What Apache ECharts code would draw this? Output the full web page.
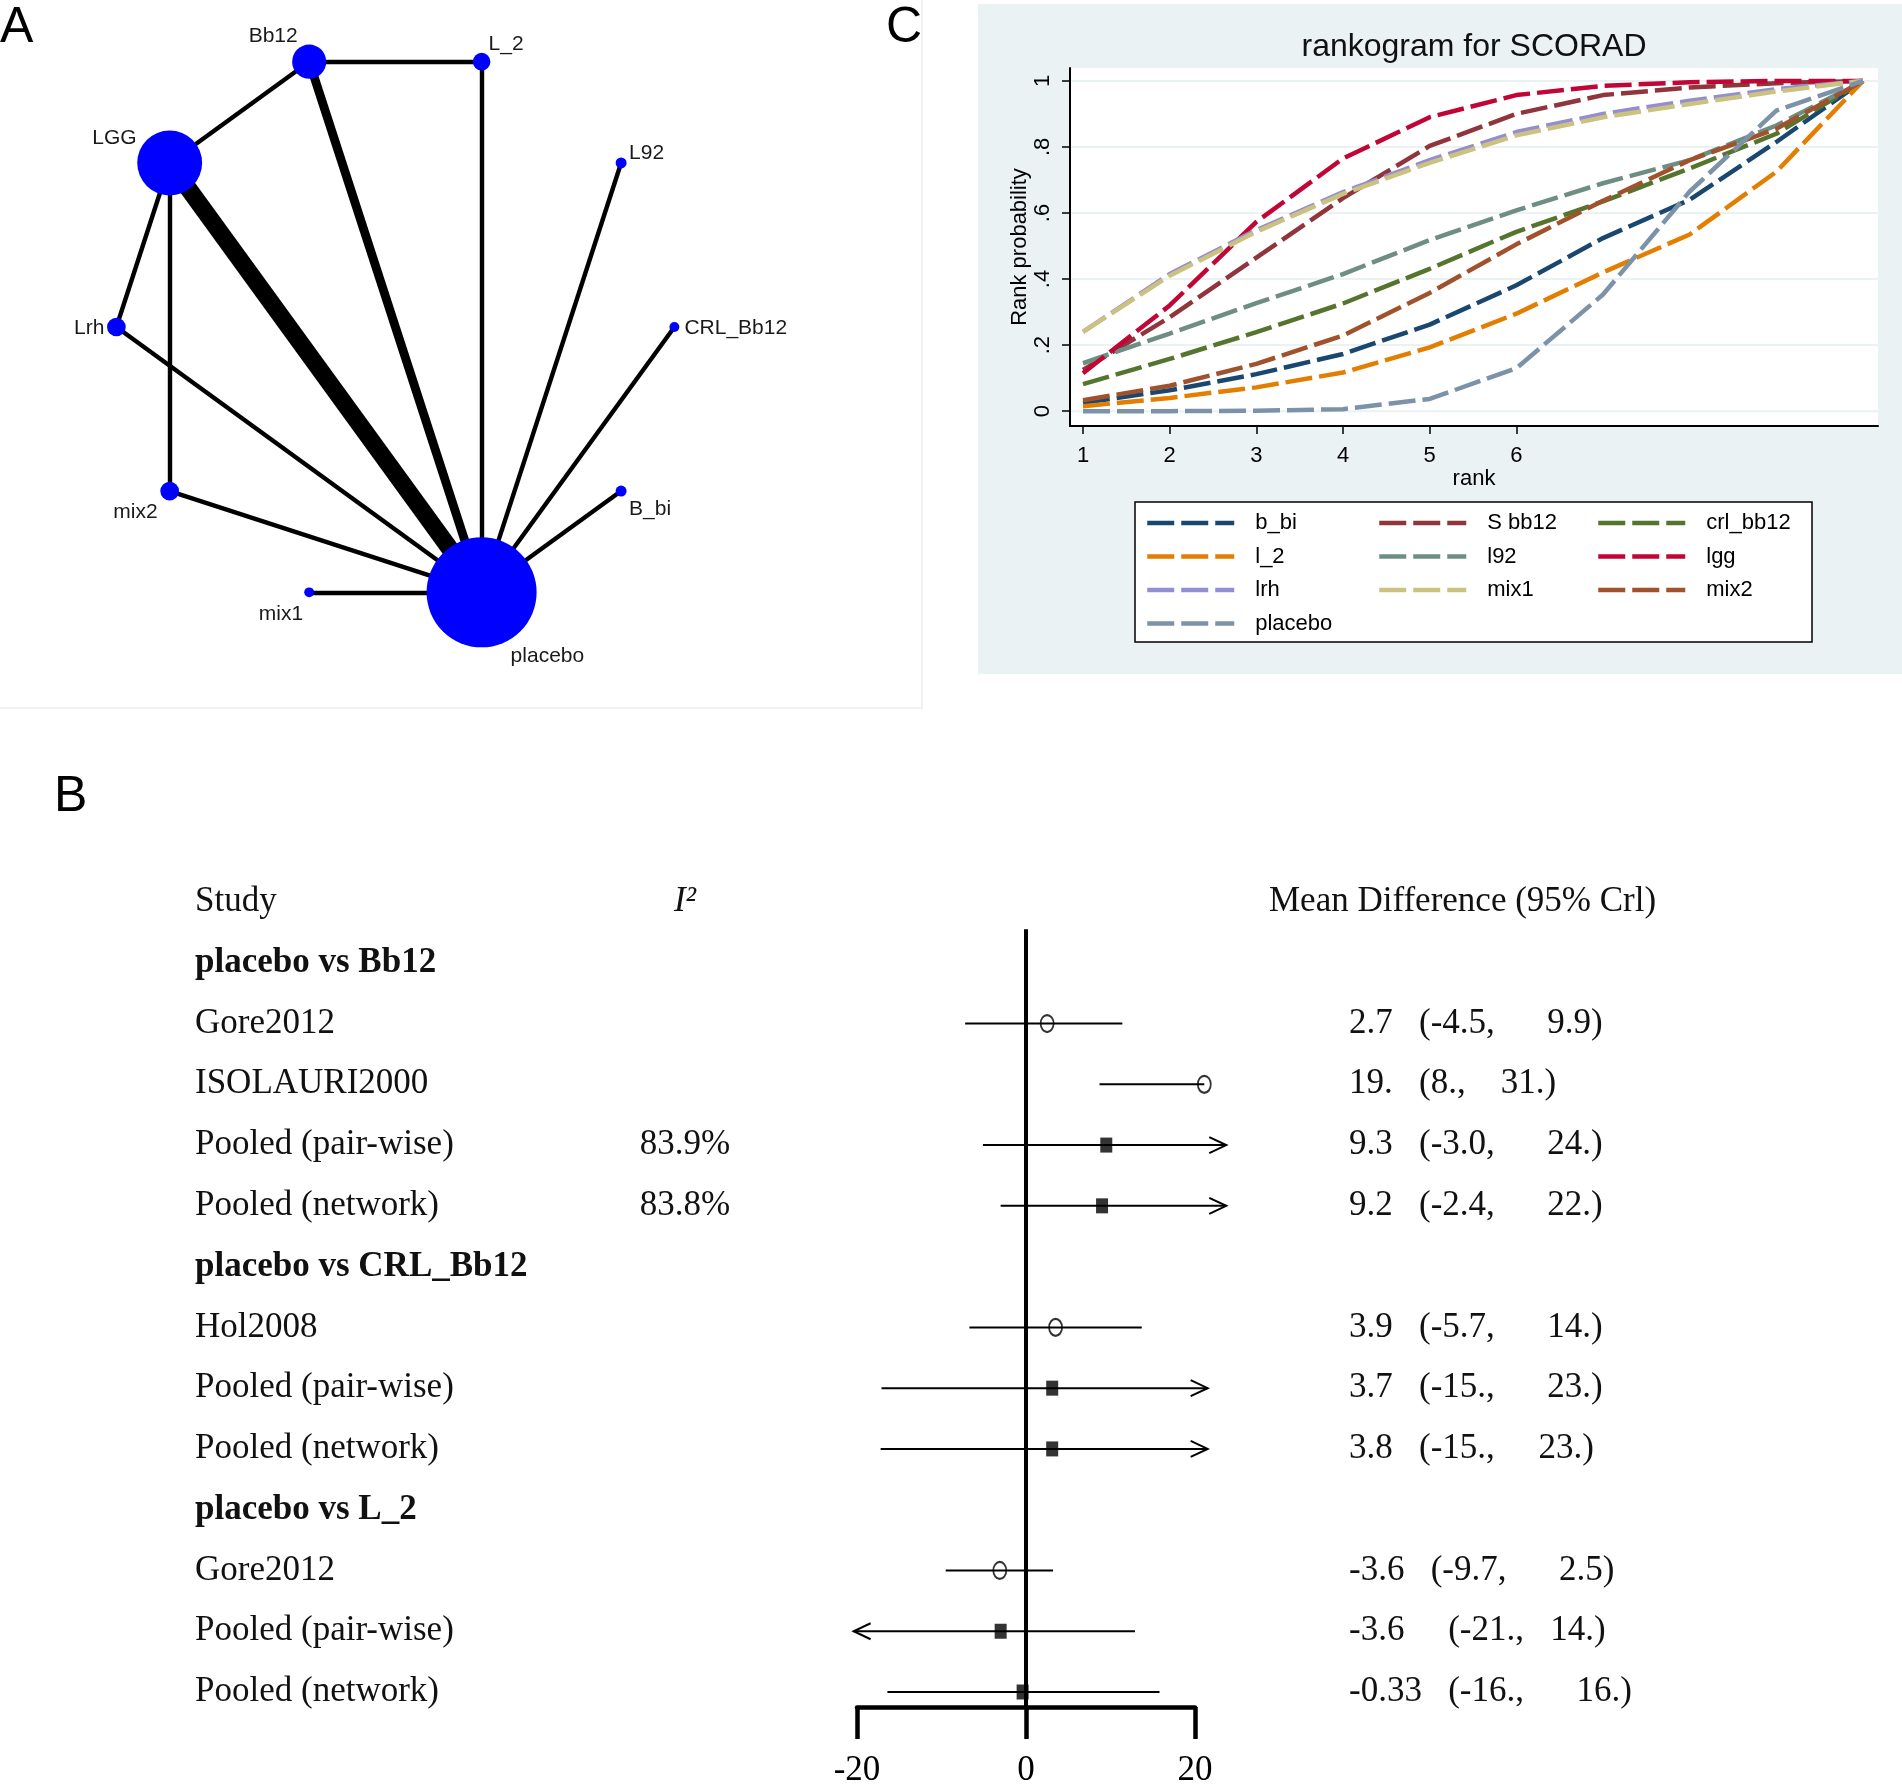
<!DOCTYPE html>
<html><head><meta charset="utf-8">
<script src="https://cdn.jsdelivr.net/npm/echarts@6/dist/echarts.min.js"></script>
<style>html,body{margin:0;padding:0;background:#fff}#c{width:1902px;height:1788px}</style>
</head><body><div id="c"></div>
<script>
// ---------- Panel A: network ----------
const nodeNames = ['CRL_Bb12', 'L92', 'L_2', 'Bb12', 'LGG', 'Lrh', 'mix2', 'mix1', 'placebo', 'B_bi'];
const nodeX = [1.0, 0.809, 0.309, -0.309, -0.809, -1.0, -0.809, -0.309, 0.309, 0.809];
const nodeY = [0.0, 0.588, 0.951, 0.951, 0.588, 0.0, -0.588, -0.951, -0.951, -0.588];
const nodeWeight = [9, 10, 16, 31, 59, 17, 17, 9, 100, 10];
const edgeFrom = ['Bb12', 'Bb12', 'Bb12', 'L_2', 'LGG', 'LGG', 'LGG', 'Lrh', 'mix2', 'mix1', 'L92', 'CRL_Bb12', 'B_bi'];
const edgeTo = ['L_2', 'LGG', 'placebo', 'placebo', 'Lrh', 'mix2', 'placebo', 'placebo', 'placebo', 'placebo', 'placebo', 'placebo', 'placebo'];
const edgeStudies = [1, 1, 2, 1, 1, 1, 4, 1, 1, 1, 1, 1, 1];

// ---------- Panel C: rankogram ----------
const ranks = [1, 2, 3, 4, 5, 6, 7, 8, 9, 10];
const rankNames = ['b_bi', 'S bb12', 'crl_bb12', 'l_2', 'l92', 'lgg', 'lrh', 'mix1', 'mix2', 'placebo'];
const rank_b_bi     = [0.025, 0.063, 0.112, 0.173, 0.262, 0.381, 0.524, 0.640, 0.815, 1];
const rank_bb12     = [0.125, 0.284, 0.465, 0.645, 0.803, 0.900, 0.957, 0.980, 0.993, 1];
const rank_crl_bb12 = [0.082, 0.158, 0.239, 0.326, 0.431, 0.543, 0.635, 0.735, 0.840, 1];
const rank_l_2      = [0.015, 0.040, 0.072, 0.117, 0.193, 0.295, 0.420, 0.535, 0.725, 1];
const rank_l92      = [0.145, 0.235, 0.327, 0.415, 0.518, 0.608, 0.690, 0.760, 0.865, 1];
const rank_lgg      = [0.115, 0.320, 0.573, 0.765, 0.890, 0.957, 0.985, 0.996, 1.000, 1];
const rank_lrh      = [0.240, 0.415, 0.548, 0.663, 0.760, 0.845, 0.900, 0.940, 0.975, 1];
const rank_mix1     = [0.240, 0.410, 0.543, 0.658, 0.752, 0.835, 0.890, 0.930, 0.968, 1];
const rank_mix2     = [0.033, 0.077, 0.143, 0.229, 0.358, 0.505, 0.637, 0.760, 0.855, 1];
const rank_placebo  = [0.000, 0.000, 0.001, 0.006, 0.037, 0.130, 0.353, 0.665, 0.910, 1];
const rankValues = [rank_b_bi, rank_bb12, rank_crl_bb12, rank_l_2, rank_l92, rank_lgg, rank_lrh, rank_mix1, rank_mix2, rank_placebo];
const rankXTicks = [1, 2, 3, 4, 5, 6];
const rankYTicks = [0, 0.2, 0.4, 0.6, 0.8, 1];
const rankYTickLabels = ['0', '.2', '.4', '.6', '.8', '1'];

// ---------- Panel B: forest ----------
const forestRows = ['Study', 'placebo vs Bb12', 'Gore2012', 'ISOLAURI2000', 'Pooled (pair-wise)', 'Pooled (network)',
  'placebo vs CRL_Bb12', 'Hol2008', 'Pooled (pair-wise)', 'Pooled (network)',
  'placebo vs L_2', 'Gore2012', 'Pooled (pair-wise)', 'Pooled (network)'];
const forestBoldRows = [1, 6, 10];
const i2Rows = [0, 4, 5];
const i2Text = ['I²', '83.9%', '83.8%'];
const mdHeader = 'Mean Difference (95% Crl)';
const mdRows = [2, 3, 4, 5, 7, 8, 9, 11, 12, 13];
const mdText = [
  '2.7   (-4.5,      9.9)',
  '19.   (8.,    31.)',
  '9.3   (-3.0,      24.)',
  '9.2   (-2.4,      22.)',
  '3.9   (-5.7,      14.)',
  '3.7   (-15.,      23.)',
  '3.8   (-15.,     23.)',
  '-3.6   (-9.7,      2.5)',
  '-3.6     (-21.,   14.)',
  '-0.33   (-16.,      16.)'
];
const markEst = [2.5, 21.1, 9.5, 9.0, 3.5, 3.1, 3.1, -3.1, -3.0, -0.4];
const markLo  = [-7.2, 8.7, -5.1, -3.0, -6.7, -17.1, -17.2, -9.5, -20.4, -16.4];
const markHi  = [11.4, 21.1, 23.7, 23.7, 13.7, 21.5, 21.5, 3.2, 12.9, 15.8];
const markKind = ['study', 'study', 'pooled', 'pooled', 'study', 'pooled', 'pooled', 'study', 'pooled', 'pooled'];
const markArrow = ['', '', 'right', 'right', '', 'right', 'right', '', 'left', ''];
const forestTicks = [-20, 0, 20];

// ---------- styles ----------
const SANS = "'Liberation Sans', Arial, sans-serif";
const SERIF = "'Liberation Serif', 'Times New Roman', serif";
const rankColors = ['#1a476f', '#90353b', '#55752f', '#e37e00', '#6e8e84', '#c10534', '#938dd2', '#cac27e', '#a0522d', '#7b92a8'];
const nodeLabelStyle = {
  'Bb12':     { align: 'center', offset: [-36, -25] },
  'L_2':      { align: 'left',   offset: [7, -17] },
  'LGG':      { align: 'right',  offset: [-33, -25] },
  'L92':      { align: 'left',   offset: [8, -10] },
  'Lrh':      { align: 'right',  offset: [-12, 1] },
  'CRL_Bb12': { align: 'left',   offset: [10, 1] },
  'mix2':     { align: 'right',  offset: [-12, 21] },
  'B_bi':     { align: 'left',   offset: [8, 18] },
  'mix1':     { align: 'right',  offset: [-6, 22] },
  'placebo':  { align: 'left',   offset: [29, 64] }
};
const FOREST_AXIS_OFFSET = 15;

const chart = echarts.init(document.getElementById('c'), null, { renderer: 'canvas' });

const graphNodes = nodeNames.map((n, i) => ({
  name: n,
  value: [nodeX[i], nodeY[i]],
  symbolSize: nodeWeight[i] * 1.1,
  label: {
    show: true, position: 'inside', align: nodeLabelStyle[n].align, verticalAlign: 'middle',
    offset: nodeLabelStyle[n].offset, fontSize: 21, fontFamily: SANS, color: '#1a1a1a'
  }
}));
const graphLinks = edgeFrom.map((f, i) => ({
  source: f, target: edgeTo[i], lineStyle: { width: edgeStudies[i] * 4.4 }
}));

const rankSeries = rankNames.map((n, k) => ({
  name: n, type: 'line', xAxisIndex: 1, yAxisIndex: 1, z: 3,
  data: ranks.map((r, i) => [r, rankValues[k][i]]),
  symbol: 'none', showSymbol: false, silent: true,
  lineStyle: { color: rankColors[k], width: 4.5, type: [27, 7], cap: 'butt' },
  itemStyle: { color: rankColors[k] }
}));

const legendCols = [
  ['b_bi', 'l_2', 'lrh', 'placebo'],
  ['S bb12', 'l92', 'mix1'],
  ['crl_bb12', 'lgg', 'mix2']
];
const legendX = [1145, 1377, 1596];

const option = {
  backgroundColor: '#fff',
  animation: false,
  title: {
    text: 'rankogram for SCORAD', left: 1474, top: 31, textAlign: 'center', padding: 0,
    textStyle: { fontSize: 32, fontWeight: 'normal', color: '#111', fontFamily: SANS }
  },
  legend: legendCols.map((cols, c) => ({
    data: cols, orient: 'vertical', left: legendX[c], top: 512, padding: 0,
    itemWidth: 87, itemHeight: 22, itemGap: 11.5, selectedMode: false, z: 6,
    itemStyle: { opacity: 0 },
    lineStyle: { width: 4.5, type: [27, 7], cap: 'butt' },
    textStyle: { fontSize: 22, fontFamily: SANS, color: '#000', lineHeight: 22, padding: [0, 0, 0, 16] }
  })),
  graphic: [
    { type: 'rect', z: -5, shape: { x: 978, y: 4, width: 924, height: 670 }, style: { fill: '#eaf2f3' } },
    { type: 'rect', z: 5, shape: { x: 1135, y: 502, width: 677, height: 140 }, style: { fill: '#fff', stroke: '#000', lineWidth: 1.5 } },
    { type: 'polyline', z: -5, shape: { points: [[922, 0], [922, 708], [0, 708]] }, style: { stroke: '#f1f1f1', lineWidth: 2, fill: null } },
    { type: 'text', z: 10, x: 0, y: 28, style: { text: 'A', fontSize: 50, fontFamily: SANS, fill: '#000', verticalAlign: 'middle' } },
    { type: 'text', z: 10, x: 886, y: 28, style: { text: 'C', fontSize: 50, fontFamily: SANS, fill: '#000', verticalAlign: 'middle' } },
    { type: 'text', z: 10, x: 54, y: 797, style: { text: 'B', fontSize: 50, fontFamily: SANS, fill: '#000', verticalAlign: 'middle' } }
  ],
  grid: [
    { left: 60.6, top: 20.1, width: 669.6, height: 613.8, show: false },
    { left: 1070, top: 68, width: 808, height: 358, show: true, backgroundColor: '#fff', borderWidth: 0 },
    { left: 857, top: 902, width: 338, height: 805, show: false }
  ],
  xAxis: [
    { gridIndex: 0, type: 'value', min: -1.2, max: 1.2, show: false },
    { gridIndex: 1, type: 'value', min: 0.85, max: 10.173, z: 6,
      name: 'rank', nameLocation: 'middle', nameGap: 41,
      nameTextStyle: { fontSize: 22, fontFamily: SANS, color: '#000' },
      axisLine: { show: true, onZero: false, lineStyle: { color: '#000', width: 2 } },
      axisTick: { show: true, length: 8, customValues: rankXTicks, lineStyle: { color: '#000', width: 1.5 } },
      axisLabel: { customValues: rankXTicks, margin: 19, fontSize: 22, fontFamily: SANS, color: '#000' },
      splitLine: { show: false } },
    { gridIndex: 2, type: 'value', min: -20, max: 20, interval: 20, offset: FOREST_AXIS_OFFSET, z: 6,
      axisLine: { show: true, onZero: false, lineStyle: { color: '#000', width: 4.5 } },
      axisTick: { show: true, length: 32, lineStyle: { color: '#000', width: 4.5 } },
      axisLabel: { margin: 46, fontSize: 35, fontFamily: SERIF, color: '#000', showMinLabel: true, showMaxLabel: true },
      splitLine: { show: false } }
  ],
  yAxis: [
    { gridIndex: 0, type: 'value', min: -1.1, max: 1.1, show: false },
    { gridIndex: 1, type: 'value', min: -0.045, max: 1.039, z: 6,
      name: 'Rank probability', nameLocation: 'middle', nameGap: 38, nameRotate: 90,
      nameTextStyle: { fontSize: 22, fontFamily: SANS, color: '#000' },
      axisLine: { show: true, onZero: false, lineStyle: { color: '#000', width: 2 } },
      axisTick: { show: true, length: 8, customValues: rankYTicks, lineStyle: { color: '#000', width: 1.5 } },
      axisLabel: { customValues: rankYTicks, rotate: 90, margin: 16, fontSize: 22, fontFamily: SANS, color: '#000',
        formatter: v => rankYTickLabels[rankYTicks.indexOf(v)] },
      splitLine: { show: false } },
    { gridIndex: 2, type: 'value', min: 0, max: 13, inverse: true, show: false }
  ],
  series: [
    {
      type: 'graph', coordinateSystem: 'cartesian2d', xAxisIndex: 0, yAxisIndex: 0,
      layout: 'none', roam: false, silent: true, z: 3,
      itemStyle: { color: '#0000ff', borderWidth: 0 },
      lineStyle: { color: '#000', opacity: 1, curveness: 0 },
      emphasis: { disabled: true },
      data: graphNodes, links: graphLinks
    },
    {
      type: 'custom', xAxisIndex: 1, yAxisIndex: 1, z: 2, silent: true,
      data: rankYTicks.map(v => [1, v]),
      renderItem: (params, api) => {
        const cs = params.coordSys;
        const y = api.coord([1, api.value(1)])[1];
        return { type: 'line', shape: { x1: cs.x + 2, y1: y, x2: cs.x + cs.width, y2: y }, style: { stroke: '#eaf2f3', lineWidth: 2 } };
      }
    },
    ...rankSeries,
    {
      type: 'custom', xAxisIndex: 2, yAxisIndex: 2, z: 4, silent: true, clip: false,
      data: [[0, 0.45]],
      renderItem: (params, api) => {
        const p0 = api.coord([0, 0.45]);
        const p1 = api.coord([0, 13]);
        return { type: 'line', shape: { x1: p0[0], y1: p0[1], x2: p1[0], y2: p1[1] + FOREST_AXIS_OFFSET }, style: { stroke: '#000', lineWidth: 4 } };
      }
    },
    {
      type: 'custom', xAxisIndex: 2, yAxisIndex: 2, z: 5, silent: true, clip: false,
      data: mdRows.map((r, i) => [markEst[i], r]),
      renderItem: (params, api) => {
        const i = params.dataIndex;
        const y = api.coord([0, mdRows[i]])[1];
        const xa = api.coord([markLo[i], mdRows[i]])[0];
        const xb = api.coord([markHi[i], mdRows[i]])[0];
        const ch = [{ type: 'line', shape: { x1: xa, y1: y, x2: xb, y2: y }, style: { stroke: '#000', lineWidth: 2 } }];
        if (markArrow[i] === 'right') ch.push({ type: 'polyline', shape: { points: [[xb - 17, y - 8], [xb, y], [xb - 17, y + 8]] }, style: { stroke: '#000', lineWidth: 2, fill: null } });
        if (markArrow[i] === 'left') ch.push({ type: 'polyline', shape: { points: [[xa + 17, y - 8], [xa, y], [xa + 17, y + 8]] }, style: { stroke: '#000', lineWidth: 2, fill: null } });
        return { type: 'group', children: ch };
      }
    },
    {
      type: 'scatter', xAxisIndex: 2, yAxisIndex: 2, z: 6, silent: true, clip: false,
      symbol: 'circle', symbolSize: [13, 17],
      itemStyle: { color: 'rgba(0,0,0,0)', borderColor: '#000', borderWidth: 2 },
      data: mdRows.map((r, i) => markKind[i] === 'study' ? [markEst[i], r] : null).filter(d => d)
    },
    {
      type: 'scatter', xAxisIndex: 2, yAxisIndex: 2, z: 6, silent: true, clip: false,
      symbol: 'rect', symbolSize: [12, 15],
      itemStyle: { color: '#000' },
      data: mdRows.map((r, i) => markKind[i] === 'pooled' ? [markEst[i], r] : null).filter(d => d)
    },
    {
      type: 'custom', xAxisIndex: 2, yAxisIndex: 2, z: 6, silent: true, clip: false,
      data: forestRows.map((t, r) => [0, r]),
      renderItem: (params, api) => {
        const r = params.dataIndex;
        const y = api.coord([0, r])[1];
        const ch = [{ type: 'text', x: 195, y: y, style: { text: forestRows[r], fontSize: 35, fontFamily: SERIF,
          fontWeight: forestBoldRows.includes(r) ? 'bold' : 'normal', fill: '#111', align: 'left', verticalAlign: 'middle' } }];
        const ii = i2Rows.indexOf(r);
        if (ii >= 0) ch.push({ type: 'text', x: 685, y: y, style: { text: i2Text[ii], fontSize: 35, fontFamily: SERIF,
          fontStyle: r === 0 ? 'italic' : 'normal', fill: '#111', align: 'center', verticalAlign: 'middle' } });
        if (r === 0) ch.push({ type: 'text', x: 1269, y: y, style: { text: mdHeader, fontSize: 35, fontFamily: SERIF, fill: '#111', align: 'left', verticalAlign: 'middle' } });
        const mi = mdRows.indexOf(r);
        if (mi >= 0) ch.push({ type: 'text', x: 1349, y: y, style: { text: mdText[mi],
          fontSize: 35, fontFamily: SERIF, fill: '#111', align: 'left', verticalAlign: 'middle' } });
        return { type: 'group', children: ch };
      }
    }
  ]
};
chart.setOption(option);
</script></body></html>
